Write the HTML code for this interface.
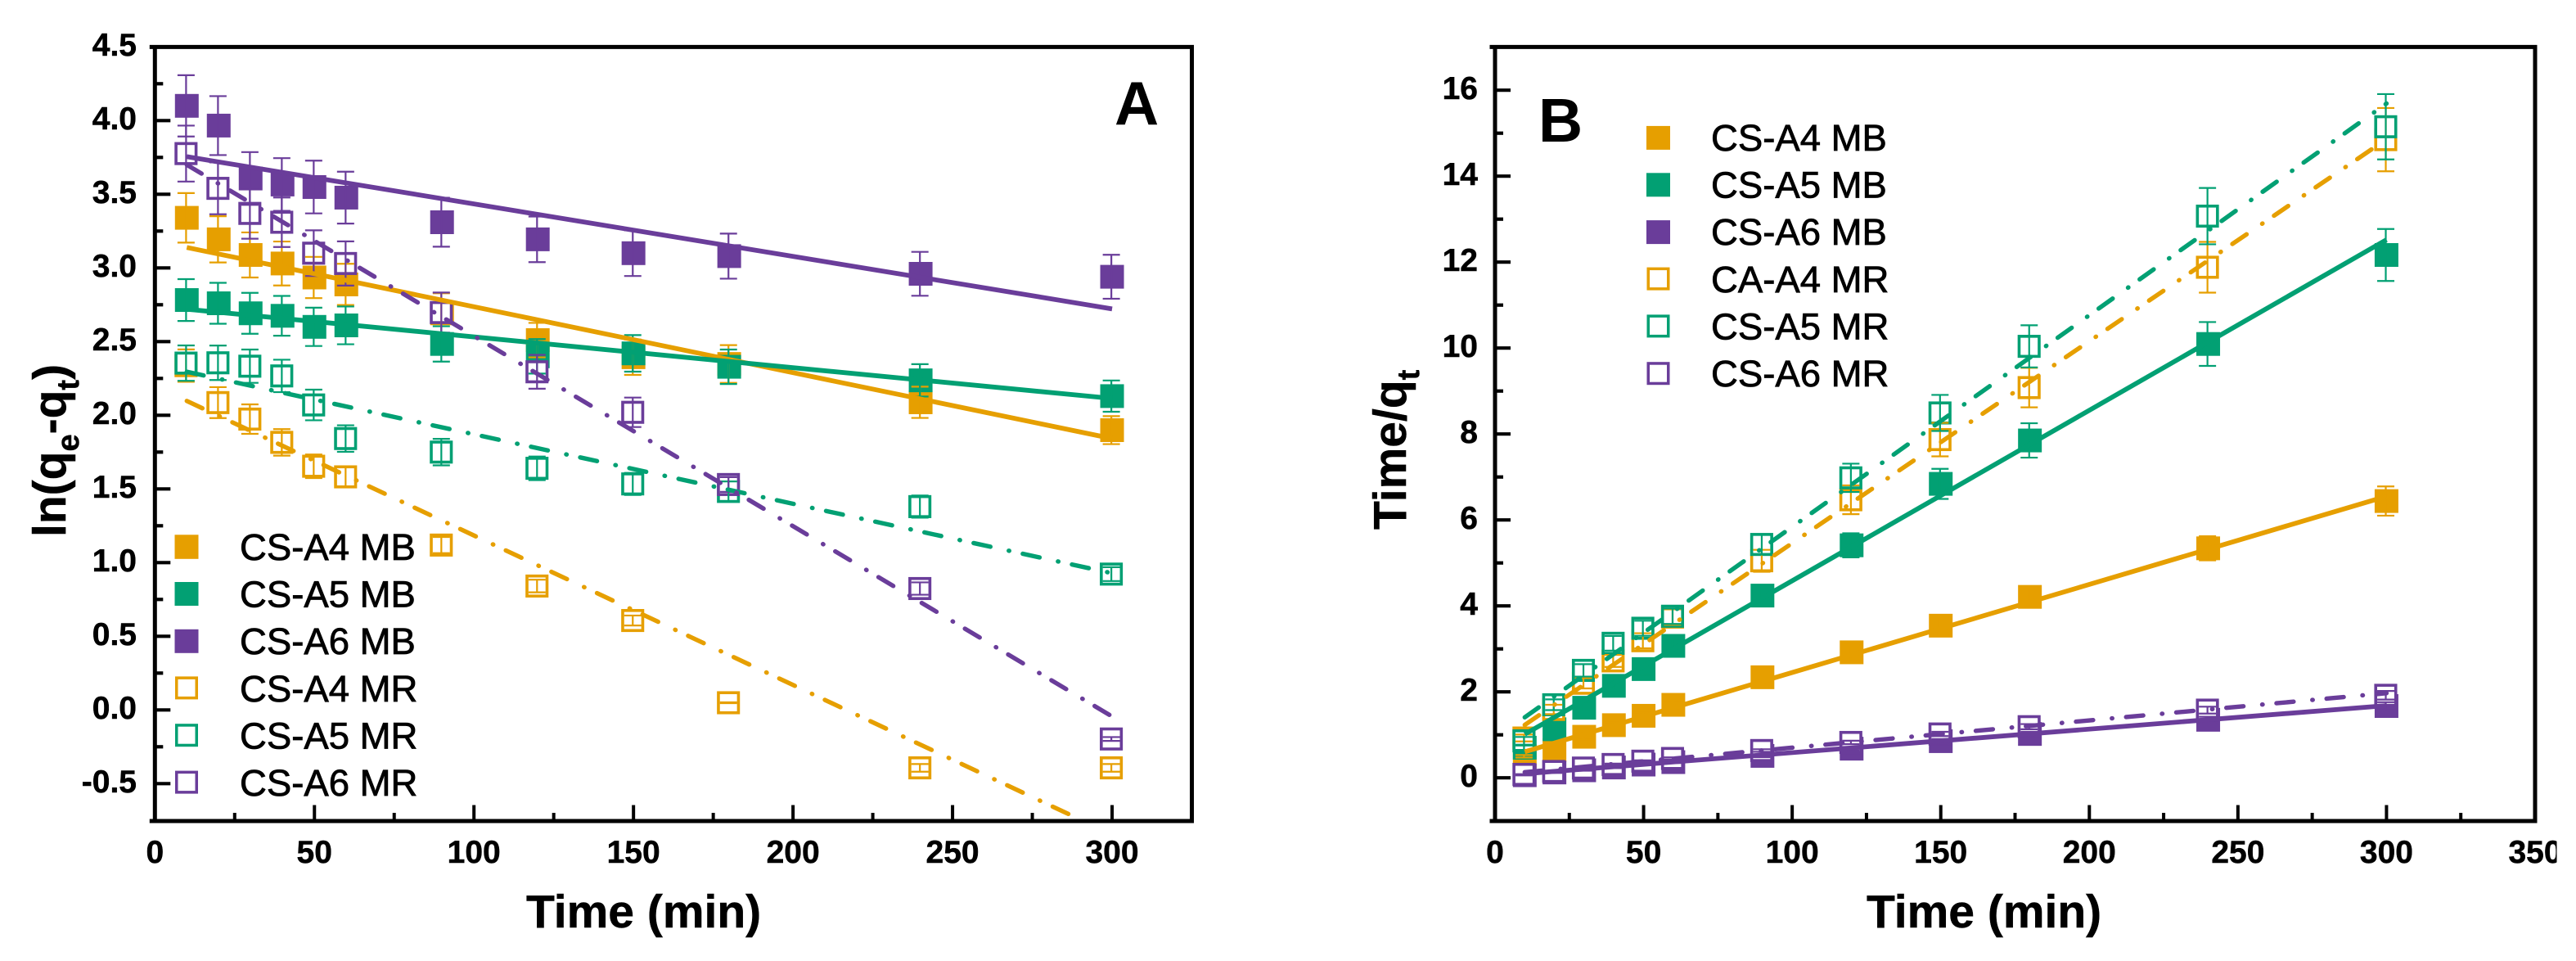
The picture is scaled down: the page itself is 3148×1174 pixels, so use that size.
<!DOCTYPE html>
<html lang="en">
<head>
<meta charset="utf-8">
<title>Kinetic fits: ln(qe-qt) and Time/qt versus time</title>
<style>
html,body{margin:0;padding:0;background:#fff;}
body{width:3148px;height:1174px;overflow:hidden;}
svg{display:block;font-family:"Liberation Sans",Arial,sans-serif;}
.tick-label{font-size:39px;font-weight:700;fill:#000;stroke:#000;stroke-width:.5px;}
.axis-title{font-size:57px;font-weight:700;fill:#000;stroke:#000;stroke-width:.5px;}
.legend-text{font-size:45.5px;fill:#000;stroke:#000;stroke-width:.8px;}
.panel-letter{font-size:75px;font-weight:700;fill:#000;}
</style>
</head>
<body>
<svg id="figure" xmlns="http://www.w3.org/2000/svg" width="3148" height="1174" viewBox="0 0 3148 1174">
  <defs>
    <clipPath id="plot-clip-a"><rect x="189" y="57" width="1268" height="946"/></clipPath>
    <clipPath id="plot-clip-b"><rect x="1827" y="57" width="1271" height="946"/></clipPath>
    <clipPath id="page-edge-clip"><rect x="1780" y="1000" width="1344.5" height="90"/></clipPath>
  </defs>
  <rect x="0" y="0" width="3148" height="1174" fill="#fff"/>

  <g id="panel-a"></g>
  <g id="panel-b"></g>

  <text class="panel-letter" x="1362" y="152">A</text>
  <text class="panel-letter" x="1880" y="173">B</text>

  <text class="axis-title" x="643" y="1133">Time (min)</text>
  <text class="axis-title" x="2281" y="1133">Time (min)</text>
  <text class="axis-title" transform="translate(80,656) rotate(-90)">ln(q<tspan font-size="38" dy="16">e</tspan><tspan dy="-16">-q</tspan><tspan font-size="38" dy="16">t</tspan><tspan dy="-16">)</tspan></text>
  <text class="axis-title" transform="translate(1718,647) rotate(-90)">Time/q<tspan font-size="38" dy="16">t</tspan></text>

  <g>
    <rect x="213.500" y="653.3" width="29" height="29.500" fill="#E69F00"/>
    <text class="legend-text" x="293" y="684">CS-A4 MB</text>
    <rect x="213.500" y="711" width="29" height="29" fill="#02A073"/>
    <text class="legend-text" x="293" y="741.600">CS-A5 MB</text>
    <rect x="213.500" y="768.800" width="29" height="29" fill="#6A3D9A"/>
    <text class="legend-text" x="293" y="799.200">CS-A6 MB</text>
    <rect x="215.750" y="828.150" width="24.500" height="24.500" fill="#fff" stroke="#E69F00" stroke-width="3.500"/>
    <text class="legend-text" x="293" y="856.800">CS-A4 MR</text>
    <rect x="215.750" y="885.950" width="24.500" height="24.500" fill="#fff" stroke="#02A073" stroke-width="3.500"/>
    <text class="legend-text" x="293" y="914.400">CS-A5 MR</text>
    <rect x="215.750" y="943.350" width="24.500" height="24.500" fill="#fff" stroke="#6A3D9A" stroke-width="3.500"/>
    <text class="legend-text" x="293" y="972">CS-A6 MR</text>
  </g>

  <g>
    <rect x="2012" y="153.900" width="29" height="29" fill="#E69F00"/>
    <text class="legend-text" x="2091" y="184">CS-A4 MB</text>
    <rect x="2012" y="211.300" width="29" height="29" fill="#02A073"/>
    <text class="legend-text" x="2091" y="241.600">CS-A5 MB</text>
    <rect x="2012" y="269.100" width="29" height="29" fill="#6A3D9A"/>
    <text class="legend-text" x="2091" y="299.200">CS-A6 MB</text>
    <rect x="2014.250" y="328.350" width="24.500" height="24.500" fill="#fff" stroke="#E69F00" stroke-width="3.500"/>
    <text class="legend-text" x="2091" y="356.800">CA-A4 MR</text>
    <rect x="2014.250" y="386.150" width="24.500" height="24.500" fill="#fff" stroke="#02A073" stroke-width="3.500"/>
    <text class="legend-text" x="2091" y="414.400">CS-A5 MR</text>
    <rect x="2014.250" y="443.950" width="24.500" height="24.500" fill="#fff" stroke="#6A3D9A" stroke-width="3.500"/>
    <text class="legend-text" x="2091" y="472">CS-A6 MR</text>
  </g>
</svg>

<script>
// ---------- shared categories ----------
const timeMinutes = [10, 20, 30, 40, 50, 60, 90, 120, 150, 180, 240, 300];
const fitTimes = [10, 300];

// ---------- panel A tick labels ----------
const aXTickLabels = ['0', '50', '100', '150', '200', '250', '300'];
const aYTickLabels = ['-0.5', '0.0', '0.5', '1.0', '1.5', '2.0', '2.5', '3.0', '3.5', '4.0', '4.5'];

// ---------- panel A values ----------
const aA4Mb = [3.34, 3.194, 3.088, 3.03, 2.935, 2.888, 2.692, 2.51, 2.394, 2.348, 2.088, 1.899];
const aA4MbErr = [0.168, 0.157, 0.153, 0.149, 0.14, 0.14, 0.136, 0.117, 0.12, 0.128, 0.106, 0.095];
const aA5Mb = [2.782, 2.76, 2.692, 2.675, 2.6, 2.61, 2.484, 2.4, 2.42, 2.329, 2.237, 2.13];
const aA5MbErr = [0.142, 0.139, 0.139, 0.135, 0.13, 0.128, 0.12, 0.117, 0.124, 0.117, 0.11, 0.106];
const aA6Mb = [4.1, 3.966, 3.607, 3.566, 3.549, 3.477, 3.31, 3.194, 3.1, 3.08, 2.96, 2.94];
const aA6MbErr = [0.208, 0.2, 0.179, 0.179, 0.179, 0.176, 0.166, 0.155, 0.155, 0.153, 0.149, 0.149];
const aA4Mr = [2.337, 2.086, 1.974, 1.816, 1.654, 1.582, 1.119, 0.841, 0.607, 0.049, -0.393, -0.393];
const aA4MrErr = [0.11, 0.105, 0.1, 0.09, 0.08, 0.07, 0.055, 0.043, 0.034, 0.003, 0.026, 0.026];
const aA5Mr = [2.354, 2.356, 2.333, 2.267, 2.07, 1.842, 1.75, 1.64, 1.534, 1.483, 1.38, 0.922];
const aA5MrErr = [0.12, 0.117, 0.113, 0.11, 0.104, 0.09, 0.09, 0.08, 0.075, 0.068, 0.075, 0.047];
const aA6Mr = [3.776, 3.54, 3.37, 3.31, 3.1, 3.03, 2.697, 2.295, 2.02, 1.53, 0.824, -0.197];
const aA6MrErr = [0.19, 0.176, 0.172, 0.168, 0.155, 0.15, 0.136, 0.115, 0.1, 0.05, 0.042, 0.013];

// ---------- panel A fit end values ----------
const aFitA4Mb = [3.139, 1.842];
const aFitA5Mb = [2.72, 2.114];
const aFitA6Mb = [3.755, 2.722];
const aFitA4Mr = [2.097, -0.845];
const aFitA5Mr = [2.295, 0.928];
const aFitA6Mr = [3.70, -0.044];

// ---------- panel B tick labels ----------
const bXTickLabels = ['0', '50', '100', '150', '200', '250', '300', '350'];
const bYTickLabels = ['0', '2', '4', '6', '8', '10', '12', '14', '16'];

// ---------- panel B values ----------
const bA4Mb = [0.5, 0.642, 0.955, 1.225, 1.443, 1.698, 2.34, 2.92, 3.54, 4.21, 5.34, 6.44];
const bA4MbErr = [0.03, 0.04, 0.06, 0.07, 0.08, 0.09, 0.13, 0.17, 0.2, 0.24, 0.28, 0.34];
const bA5Mb = [0.7, 1.13, 1.63, 2.14, 2.53, 3.07, 4.24, 5.41, 6.84, 7.85, 10.095, 12.166];
const bA5MbErr = [0.05, 0.07, 0.09, 0.11, 0.13, 0.16, 0.22, 0.28, 0.35, 0.4, 0.51, 0.605];
const bA6Mb = [0.06, 0.124, 0.175, 0.24, 0.308, 0.365, 0.51, 0.678, 0.853, 1.02, 1.35, 1.67];
const bA6MbErr = [0.005, 0.01, 0.01, 0.015, 0.015, 0.02, 0.03, 0.04, 0.05, 0.05, 0.07, 0.09];
const bA4Mr = [0.926, 1.59, 2.2, 2.72, 3.19, 3.74, 5.05, 6.47, 7.87, 9.08, 11.88, 14.85];
const bA4MrErr = [0.08, 0.11, 0.12, 0.14, 0.175, 0.18, 0.255, 0.335, 0.39, 0.46, 0.59, 0.736];
const bA5Mr = [0.86, 1.7, 2.5, 3.13, 3.48, 3.76, 5.43, 6.98, 8.49, 10.04, 13.07, 15.15];
const bA5MrErr = [0.09, 0.125, 0.145, 0.17, 0.175, 0.18, 0.235, 0.33, 0.42, 0.49, 0.655, 0.76];
const bA6Mr = [0.08, 0.148, 0.227, 0.31, 0.387, 0.45, 0.635, 0.823, 1.02, 1.19, 1.575, 1.92];
const bA6MrErr = [0.005, 0.01, 0.015, 0.02, 0.02, 0.025, 0.03, 0.04, 0.05, 0.06, 0.08, 0.1];

// ---------- panel B fit end values ----------
const bFitA4Mb = [0.605, 6.55];
const bFitA5Mb = [1.013, 12.52];
const bFitA6Mb = [0.095, 1.68];
const bFitA4Mr = [1.23, 14.86];
const bFitA5Mr = [1.407, 15.69];
const bFitA6Mr = [0.13, 1.97];

const ORANGE = '#E69F00';
const GREEN = '#02A073';
const PURPLE = '#6A3D9A';
const SVG_NS = 'http://www.w3.org/2000/svg';

function linearScale(d0, d1, r0, r1) {
  return function (v) { return r0 + (v - d0) * (r1 - r0) / (d1 - d0); };
}

function svgEl(tag, parent) {
  const el = document.createElementNS(SVG_NS, tag);
  parent.appendChild(el);
  return el;
}

function setAttrs(el, attrs) {
  for (const k in attrs) el.setAttribute(k, attrs[k]);
}

function drawAxes(root, box, xScale, yScale, xLabels, yLabels, xMinorStep, yMinorStep, xEnd, yStart, yEnd, labelEdge, xLabelClip) {
  const frame = svgEl('g', root);
  
  
  const sides = [
    [box.left, box.top, box.left, box.bottom],
    [box.right, box.top, box.right, box.bottom],
    [box.left - 6.5, box.top, box.right + 2.5, box.top],
    [box.left - 6.5, box.bottom, box.right + 2.5, box.bottom]
  ];
  sides.forEach(function (s) {
    const line = svgEl('line', frame);
    setAttrs(line, { x1: s[0], y1: s[1], x2: s[2], y2: s[3], stroke: '#000', 'stroke-width': 5 });
    
    
  });

  const xLabelGroup = svgEl('g', root);
  
  
  if (xLabelClip) xLabelGroup.setAttribute('clip-path', 'url(#' + xLabelClip + ')');

  xLabels.forEach(function (label) {
    const value = parseFloat(label);
    const x = xScale(value);
    const tick = svgEl('line', frame);
    setAttrs(tick, { x1: x, y1: box.bottom, x2: x, y2: box.bottom - 19.5, stroke: '#000', 'stroke-width': 4 });
    
    
    const text = svgEl('text', xLabelGroup);
    setAttrs(text, { x: x, y: 1054, 'text-anchor': 'middle', class: 'tick-label' });
    text.textContent = label;
    
    
  });
  for (let m = xMinorStep; m < xEnd; m += 2 * xMinorStep) {
    const x = xScale(m);
    const tick = svgEl('line', frame);
    setAttrs(tick, { x1: x, y1: box.bottom, x2: x, y2: box.bottom - 10, stroke: '#000', 'stroke-width': 4 });
    
    
  }

  yLabels.forEach(function (label) {
    const value = parseFloat(label);
    const y = yScale(value);
    const tick = svgEl('line', frame);
    setAttrs(tick, { x1: box.left, y1: y, x2: box.left + 19, y2: y, stroke: '#000', 'stroke-width': 4.2 });
    
    
    const text = svgEl('text', root);
    setAttrs(text, { x: labelEdge, y: y + 10.7, 'text-anchor': 'end', class: 'tick-label' });
    text.textContent = label;
    
    
  });
  for (let m = yStart; m < yEnd; m += 2 * yMinorStep) {
    const y = yScale(m);
    const tick = svgEl('line', frame);
    setAttrs(tick, { x1: box.left, y1: y, x2: box.left + 10, y2: y, stroke: '#000', 'stroke-width': 4.2 });
    
    
  }
}

function drawMarkers(root, xScale, yScale, xs, ys, color, open, label) {
  const group = svgEl('g', root);
  
  
  xs.forEach(function (t, i) {
    const cx = xScale(t);
    const cy = yScale(ys[i]);
    const r = svgEl('rect', group);
    if (open) {
      setAttrs(r, { x: cx - 13.2, y: cy - 12.25, width: 24.5, height: 24.5, fill: '#fff', stroke: color, 'stroke-width': 3.6 });
    } else {
      setAttrs(r, { x: cx - 14.5, y: cy - 14.5, width: 29, height: 29, fill: color });
    }
    
    
  });
}

function drawErrors(root, xScale, yScale, xs, ys, errs, color, label) {
  const group = svgEl('g', root);
  
  
  xs.forEach(function (t, i) {
    const cx = xScale(t) - 0.9;
    const hi = yScale(ys[i] + errs[i]);
    const lo = yScale(ys[i] - errs[i]);
    const path = svgEl('path', group);
    const d = 'M' + cx + ' ' + hi + 'V' + lo +
      'M' + (cx - 10.5) + ' ' + hi + 'H' + (cx + 10.5) +
      'M' + (cx - 10.5) + ' ' + lo + 'H' + (cx + 10.5);
    setAttrs(path, { d: d, fill: 'none', stroke: color, 'stroke-width': 2.2 });
    
    
  });
}

function drawFit(root, xScale, yScale, xs, ys, color, dashed, clipId, label) {
  const line = svgEl('line', root);
  setAttrs(line, {
    x1: xScale(xs[0]), y1: yScale(ys[0]),
    x2: xScale(xs[1]), y2: yScale(ys[1]),
    stroke: color, 'stroke-width': dashed ? 5.4 : 5.8,
    'stroke-linecap': dashed ? 'round' : 'butt',
    'clip-path': 'url(#' + clipId + ')'
  });
  if (dashed) line.setAttribute('stroke-dasharray', '21 23 0.5 17');
  
  
}

function drawPanel(root, box, xScale, yScale, filled, open, clipId) {
  filled.forEach(function (s) { drawMarkers(root, xScale, yScale, timeMinutes, s[0], s[2], false, s[4]); });
  open.forEach(function (s) { drawMarkers(root, xScale, yScale, timeMinutes, s[0], s[2], true, s[4]); });
  filled.concat(open).forEach(function (s) { drawErrors(root, xScale, yScale, timeMinutes, s[0], s[1], s[2], s[4]); });
  filled.forEach(function (s) { drawFit(root, xScale, yScale, fitTimes, s[3], s[2], false, clipId, s[4]); });
  open.forEach(function (s) { drawFit(root, xScale, yScale, fitTimes, s[3], s[2], true, clipId, s[4]); });
}

// ---------- panel A ----------
const boxA = { left: 189.3, right: 1456.5, top: 57.4, bottom: 1003 };
const xA = linearScale(0, 325, boxA.left, boxA.right);
const yA = linearScale(0, 4.5, 867.3, 57.3);
const panelA = document.getElementById('panel-a');
drawPanel(panelA, boxA, xA, yA,
  [[aA4Mb, aA4MbErr, ORANGE, aFitA4Mb, 'a-cs-a4-mb'],
   [aA5Mb, aA5MbErr, GREEN, aFitA5Mb, 'a-cs-a5-mb'],
   [aA6Mb, aA6MbErr, PURPLE, aFitA6Mb, 'a-cs-a6-mb']],
  [[aA4Mr, aA4MrErr, ORANGE, aFitA4Mr, 'a-cs-a4-mr'],
   [aA5Mr, aA5MrErr, GREEN, aFitA5Mr, 'a-cs-a5-mr'],
   [aA6Mr, aA6MrErr, PURPLE, aFitA6Mr, 'a-cs-a6-mr']],
  'plot-clip-a');
drawAxes(panelA, boxA, xA, yA, aXTickLabels, aYTickLabels, 25, 0.25, 325, -0.25, 4.5, 167, null);

// ---------- panel B ----------
const boxB = { left: 1827, right: 3098, top: 57.4, bottom: 1003 };
const xB = linearScale(0, 350, boxB.left, boxB.right);
const yB = linearScale(0, 16, 950.2, 110.2);
const panelB = document.getElementById('panel-b');
drawPanel(panelB, boxB, xB, yB,
  [[bA4Mb, bA4MbErr, ORANGE, bFitA4Mb, 'b-cs-a4-mb'],
   [bA5Mb, bA5MbErr, GREEN, bFitA5Mb, 'b-cs-a5-mb'],
   [bA6Mb, bA6MbErr, PURPLE, bFitA6Mb, 'b-cs-a6-mb']],
  [[bA4Mr, bA4MrErr, ORANGE, bFitA4Mr, 'b-ca-a4-mr'],
   [bA5Mr, bA5MrErr, GREEN, bFitA5Mr, 'b-cs-a5-mr'],
   [bA6Mr, bA6MrErr, PURPLE, bFitA6Mr, 'b-cs-a6-mr']],
  'plot-clip-b');
drawAxes(panelB, boxB, xB, yB, bXTickLabels, bYTickLabels, 25, 1, 350, 1, 17, 1806, 'page-edge-clip');
</script>
</body>
</html>
